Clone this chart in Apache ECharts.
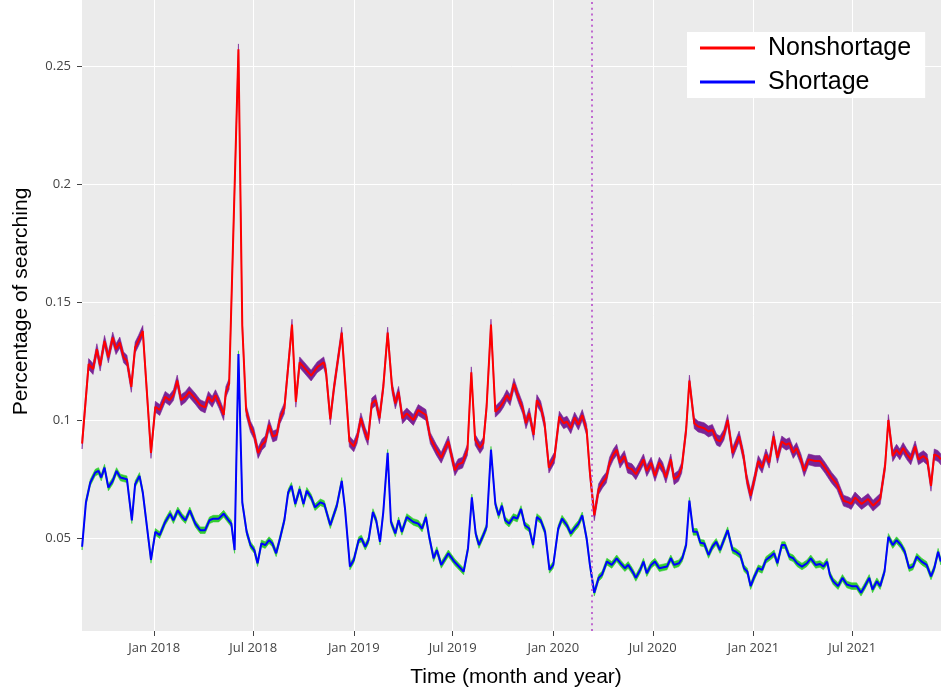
<!DOCTYPE html>
<html>
<head>
<meta charset="utf-8">
<script src="https://cdn.jsdelivr.net/npm/echarts@6/dist/echarts.min.js"></script>
<style>
  html, body { margin: 0; padding: 0; background: #ffffff; }
  #chart { width: 941px; height: 693px; }
</style>
</head>
<body>
<div id="chart"></div>
<script>
// Weekly share of searches; each pair is [day counted from 1 Jan 2018, share].
const nonshortage = [
  [-132,0.0900],[-120,0.1237],[-112,0.1216],[-105,0.1300],[-99,0.1230],[-91,0.1335],[-84,0.1265],[-76,0.1349],
  [-70,0.1300],[-63,0.1328],[-56,0.1265],[-50,0.1251],[-42,0.1140],[-35,0.1307],[-29,0.1335],[-21,0.1377],
  [-6,0.0860],[2,0.1056],[10,0.1042],[20,0.1098],[28,0.1084],[35,0.1105],[42,0.1167],[49,0.1084],
  [57,0.1098],[64,0.1119],[75,0.1090],[84,0.1063],[93,0.1053],[99,0.1098],[106,0.1077],[112,0.1105],
  [119,0.1070],[127,0.1021],[131,0.1119],[137,0.1153],[154,0.2570],[161,0.1400],[168,0.1042],[176,0.0972],
  [182,0.0944],[190,0.0860],[197,0.0895],[203,0.0909],[210,0.0979],[217,0.0930],[224,0.0937],[230,0.1007],
  [238,0.1049],[246,0.1251],[252,0.1404],[259,0.1077],[266,0.1244],[274,0.1223],[287,0.1188],[298,0.1223],
  [310,0.1244],[314,0.1209],[322,0.1003],[329,0.1140],[343,0.1370],[357,0.0909],[365,0.0888],[371,0.0923],
  [378,0.1007],[386,0.0944],[391,0.0916],[398,0.1070],[405,0.1084],[412,0.1007],[419,0.1140],[427,0.1370],
  [435,0.1140],[441,0.1070],[447,0.1119],[454,0.1007],[462,0.1028],[474,0.1000],[483,0.1042],[497,0.1021],
  [505,0.0923],[516,0.0874],[525,0.0840],[538,0.0909],[550,0.0787],[556,0.0812],[564,0.0819],[573,0.0874],
  [580,0.1202],[587,0.0916],[596,0.0881],[602,0.0902],[608,0.1056],[616,0.1404],[624,0.1035],[633,0.1056],
  [639,0.1077],[645,0.1105],[651,0.1084],[658,0.1153],[666,0.1098],[674,0.1049],[680,0.0986],[686,0.1028],
  [694,0.0937],[700,0.1084],[707,0.1056],[714,0.0986],[722,0.0798],[732,0.0840],[741,0.1014],[749,0.0986],
  [755,0.0993],[762,0.0965],[769,0.1010],[776,0.0980],[783,0.1021],[791,0.0958],[797,0.0777],[805,0.0596],
  [813,0.0707],[820,0.0735],[827,0.0756],[833,0.0819],[840,0.0854],[846,0.0874],[852,0.0819],[860,0.0847],
  [866,0.0798],[874,0.0791],[881,0.0770],[889,0.0805],[895,0.0833],[901,0.0784],[909,0.0819],[916,0.0763],
  [924,0.0819],[930,0.0798],[936,0.0756],[945,0.0833],[951,0.0749],[959,0.0763],[965,0.0798],[973,0.0958],
  [979,0.1167],[988,0.0986],[995,0.0972],[1006,0.0965],[1014,0.0951],[1021,0.0958],[1029,0.0916],[1035,0.0909],
  [1042,0.0937],[1049,0.1000],[1058,0.0860],[1064,0.0895],[1070,0.0930],[1078,0.0847],[1084,0.0749],[1091,0.0679],
  [1098,0.0749],[1105,0.0826],[1112,0.0798],[1119,0.0854],[1125,0.0819],[1133,0.0930],[1140,0.0840],[1148,0.0909],
  [1156,0.0895],[1162,0.0902],[1169,0.0860],[1175,0.0881],[1183,0.0833],[1189,0.0784],[1197,0.0833],[1209,0.0826],
  [1218,0.0826],[1227,0.0798],[1239,0.0756],[1249,0.0728],[1255,0.0693],[1261,0.0658],[1270,0.0651],[1275,0.0644],
  [1282,0.0672],[1294,0.0644],[1306,0.0665],[1315,0.0637],[1328,0.0665],[1337,0.0805],[1343,0.1000],[1351,0.0847],
  [1358,0.0874],[1364,0.0854],[1370,0.0881],[1377,0.0854],[1384,0.0833],[1392,0.0888],[1398,0.0833],[1407,0.0847],
  [1414,0.0833],[1421,0.0721],[1427,0.0854],[1434,0.0847],[1439,0.0833]
];

const shortage = [
  [-132,0.0463],[-125,0.0651],[-117,0.0735],[-108,0.0777],[-102,0.0784],[-97,0.0756],[-91,0.0798],[-84,0.0714],
  [-76,0.0742],[-69,0.0784],[-62,0.0756],[-50,0.0749],[-41,0.0575],[-35,0.0728],[-27,0.0763],[-21,0.0693],
  [-6,0.0407],[2,0.0526],[10,0.0512],[20,0.0568],[29,0.0603],[35,0.0575],[43,0.0617],[51,0.0589],
  [57,0.0575],[65,0.0617],[75,0.0561],[84,0.0533],[93,0.0533],[101,0.0575],[108,0.0582],[118,0.0582],
  [127,0.0603],[136,0.0575],[141,0.0561],[147,0.0449],[154,0.1279],[161,0.0651],[169,0.0526],[176,0.0470],
  [183,0.0449],[189,0.0393],[196,0.0477],[203,0.0470],[210,0.0491],[216,0.0477],[223,0.0435],[230,0.0498],
  [238,0.0575],[245,0.0693],[251,0.0721],[258,0.0644],[266,0.0707],[273,0.0644],[279,0.0700],[287,0.0672],
  [294,0.0630],[304,0.0651],[311,0.0644],[322,0.0554],[334,0.0637],[343,0.0742],[349,0.0623],[358,0.0379],
  [365,0.0407],[374,0.0491],[379,0.0498],[386,0.0463],[392,0.0491],[400,0.0610],[406,0.0575],[413,0.0484],
  [419,0.0610],[427,0.0861],[433,0.0568],[441,0.0519],[447,0.0575],[453,0.0526],[462,0.0589],[474,0.0568],
  [483,0.0561],[490,0.0540],[497,0.0589],[503,0.0505],[511,0.0414],[517,0.0449],[525,0.0386],[538,0.0435],
  [550,0.0397],[566,0.0358],[574,0.0456],[581,0.0672],[588,0.0519],[594,0.0470],[602,0.0512],[608,0.0547],
  [616,0.0874],[624,0.0644],[630,0.0596],[636,0.0637],[642,0.0575],[649,0.0561],[657,0.0589],[664,0.0582],
  [671,0.0623],[678,0.0554],[686,0.0540],[693,0.0470],[700,0.0589],[707,0.0575],[715,0.0526],[723,0.0365],
  [730,0.0386],[739,0.0540],[746,0.0582],[755,0.0554],[762,0.0519],[770,0.0544],[776,0.0560],[783,0.0596],
  [791,0.0498],[797,0.0386],[805,0.0268],[813,0.0331],[819,0.0344],[828,0.0400],[837,0.0386],[846,0.0414],
  [853,0.0393],[861,0.0372],[867,0.0386],[875,0.0358],[881,0.0331],[889,0.0365],[895,0.0400],[901,0.0351],
  [909,0.0386],[916,0.0400],[924,0.0372],[938,0.0379],[945,0.0414],[951,0.0386],[960,0.0393],[966,0.0414],
  [973,0.0470],[979,0.0658],[986,0.0526],[993,0.0526],[999,0.0480],[1006,0.0477],[1014,0.0428],[1021,0.0463],
  [1028,0.0484],[1035,0.0449],[1042,0.0491],[1049,0.0533],[1058,0.0449],[1064,0.0442],[1072,0.0428],[1079,0.0372],
  [1085,0.0358],[1091,0.0296],[1098,0.0337],[1105,0.0372],[1112,0.0365],[1119,0.0407],[1127,0.0421],[1134,0.0435],
  [1140,0.0393],[1148,0.0470],[1154,0.0470],[1162,0.0421],[1169,0.0414],[1176,0.0393],[1185,0.0379],[1194,0.0393],
  [1201,0.0414],[1210,0.0386],[1218,0.0390],[1224,0.0379],[1231,0.0400],[1236,0.0344],[1242,0.0317],[1251,0.0296],
  [1259,0.0331],[1267,0.0303],[1276,0.0296],[1285,0.0296],[1293,0.0268],[1300,0.0296],[1308,0.0331],[1314,0.0282],
  [1322,0.0317],[1328,0.0296],[1336,0.0358],[1343,0.0505],[1351,0.0470],[1358,0.0491],[1366,0.0470],[1373,0.0442],
  [1381,0.0372],[1388,0.0379],[1395,0.0421],[1404,0.0400],[1413,0.0386],[1421,0.0337],[1427,0.0372],[1434,0.0442],
  [1439,0.0400]
];

// Half-width of the confidence band drawn around each line.
const nonshortageHalfBand = 0.0023;
const shortageHalfBand = 0.0014;

// Axis ticks and labels.
const yTicks = [0.05, 0.1, 0.15, 0.2, 0.25];
const xTickDates = ['2018-01-01', '2018-07-01', '2019-01-01', '2019-07-01',
                    '2020-01-01', '2020-07-01', '2021-01-01', '2021-07-01'];
const xTickLabels = ['Jan 2018', 'Jul 2018', 'Jan 2019', 'Jul 2019',
                     'Jan 2020', 'Jul 2020', 'Jan 2021', 'Jul 2021'];
const eventDate = '2020-03-11';

// Visible ranges.
const xStartDay = -132.2, xEndDay = 1439.3;
const yMin = 0.0106, yMax = 0.2779;

const DAY_MS = 86400000;
const ORIGIN = Date.UTC(2018, 0, 1);
const toTime = d => ORIGIN + d * DAY_MS;
const parseDate = s => { const p = s.split('-').map(Number); return Date.UTC(p[0], p[1] - 1, p[2]); };
const xTickTimes = xTickDates.map(parseDate);
const toSeries = arr => arr.map(([d, v]) => [toTime(d), v]);

// Confidence band: one filled polygon running along the upper edge and back along the lower edge.
function bandSeries(arr, h, color) {
  return {
    type: 'custom', silent: true, z: 2,
    data: toSeries(arr),
    encode: { x: 0, y: 1 },
    renderItem: (params, api) => {
      if (params.dataIndex !== 0) return null;
      const upper = arr.map(([d, v]) => api.coord([toTime(d), v + h]));
      const lower = arr.map(([d, v]) => api.coord([toTime(d), v - h])).reverse();
      return {
        type: 'polygon',
        shape: { points: upper.concat(lower) },
        style: { fill: color, stroke: color, lineWidth: 0.6 }
      };
    }
  };
}

const chart = echarts.init(document.getElementById('chart'), null, { renderer: 'canvas' });

chart.setOption({
  animation: false,
  backgroundColor: '#ffffff',
  grid: { left: 82, right: 0, top: 0, bottom: 57, show: true, backgroundColor: '#ebebeb', borderWidth: 0 },
  legend: {
    data: ['Nonshortage', 'Shortage'],
    orient: 'vertical', left: 687, top: 32,
    backgroundColor: '#ffffff',
    padding: [3, 14, 3, 13],
    itemWidth: 55, itemHeight: 3, itemGap: 8, icon: 'rect',
    textStyle: { fontSize: 25, fontFamily: 'Liberation Sans, Arial, sans-serif', color: '#000000',
                 lineHeight: 26, padding: [0, 0, 0, 8] }
  },
  xAxis: {
    // Time is carried as UTC milliseconds on a numeric scale.
    type: 'value',
    min: toTime(xStartDay), max: toTime(xEndDay),
    axisLine: { show: false },
    axisTick: { show: true, customValues: xTickTimes, length: 5, lineStyle: { color: '#444444' } },
    axisLabel: {
      customValues: xTickTimes, margin: 11, color: '#444444', fontSize: 13,
      fontFamily: 'Open Sans, sans-serif',
      formatter: v => {
        const i = xTickTimes.findIndex(t => Math.abs(t - v) < DAY_MS);
        return i >= 0 ? xTickLabels[i] : '';
      }
    },
    splitLine: { show: true, lineStyle: { color: '#ffffff', width: 1 } },
    name: 'Time (month and year)', nameLocation: 'middle', nameGap: 36,
    nameTextStyle: { fontSize: 21, color: '#000000', fontFamily: 'Liberation Sans, Arial, sans-serif',
                     padding: [0, 0, 0, 9] }
  },
  yAxis: {
    type: 'value', min: yMin, max: yMax,
    axisLine: { show: false },
    axisTick: { show: true, customValues: yTicks, length: 5, lineStyle: { color: '#444444' } },
    axisLabel: {
      customValues: yTicks, margin: 11, color: '#444444', fontSize: 13,
      fontFamily: 'Open Sans, sans-serif',
      formatter: v => String(+v.toFixed(2))
    },
    splitLine: { show: true, lineStyle: { color: '#ffffff', width: 1 } },
    name: 'Percentage of searching', nameLocation: 'middle', nameGap: 50,
    nameTextStyle: { fontSize: 21, color: '#000000', fontFamily: 'Liberation Sans, Arial, sans-serif',
                     padding: [0, 0, 0, 28] }
  },
  series: [
    bandSeries(shortage, shortageHalfBand, '#33cc33'),
    bandSeries(nonshortage, nonshortageHalfBand, '#7a2496'),
    {
      name: 'Shortage', type: 'line', data: toSeries(shortage), symbol: 'none', z: 3,
      itemStyle: { color: '#0000ff' }, lineStyle: { color: '#0000ff', width: 2 }
    },
    {
      name: 'Nonshortage', type: 'line', data: toSeries(nonshortage), symbol: 'none', z: 3,
      itemStyle: { color: '#ff0000' }, lineStyle: { color: '#ff0000', width: 2 },
      markLine: {
        silent: true, symbol: ['none', 'none'], label: { show: false },
        lineStyle: { color: '#c06ad0', type: [2, 3.7], width: 2, opacity: 1 },
        data: [{ xAxis: parseDate(eventDate) }]
      }
    }
  ]
});
</script>
</body>
</html>
